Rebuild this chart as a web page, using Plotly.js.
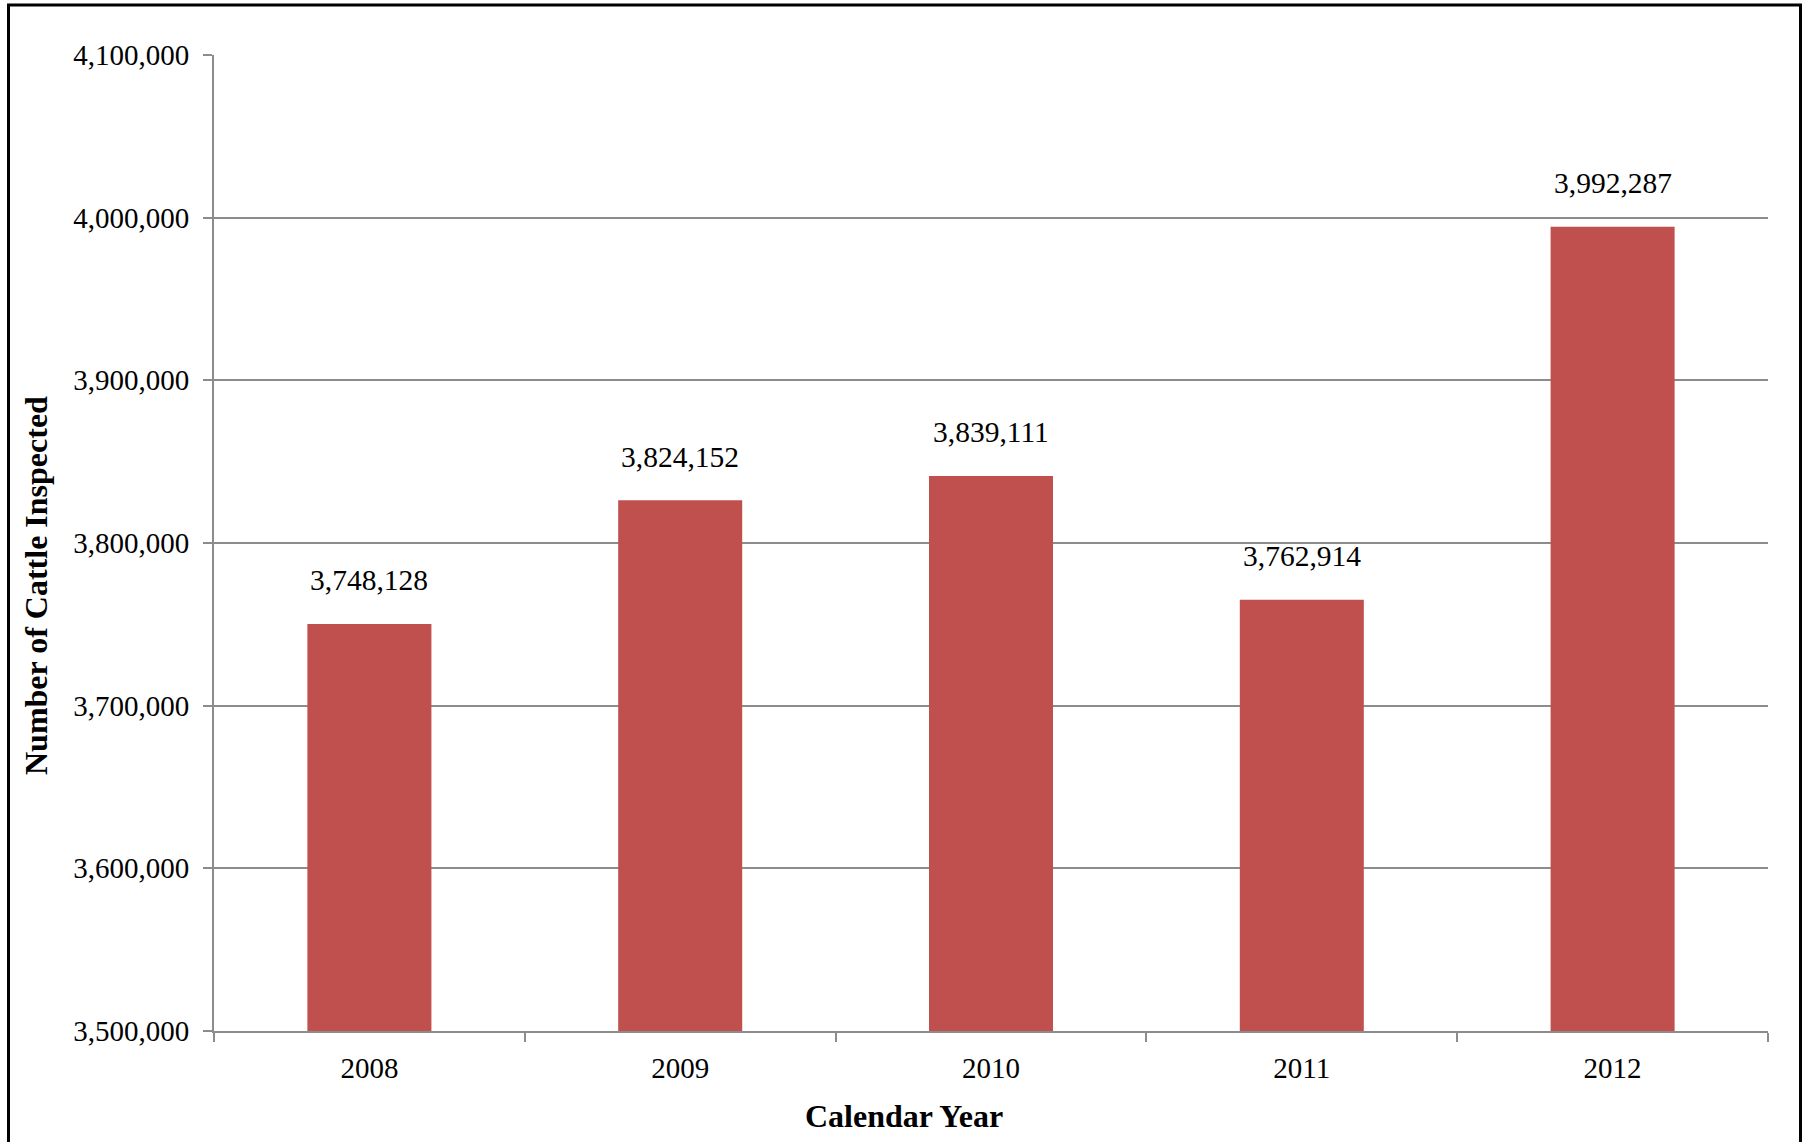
<!DOCTYPE html>
<html>
<head>
<meta charset="utf-8">
<script src="https://cdn.plot.ly/plotly-3.0.1.min.js"></script>
<style>
  html, body { margin: 0; padding: 0; background: #fff; }
  #chart { width: 1807px; height: 1142px; }
</style>
</head>
<body>
<div id="chart"></div>
<script>
const years = ["2008", "2009", "2010", "2011", "2012"];
const cattleInspected = [3748128, 3824152, 3839111, 3762914, 3992287];
const yTickVals = [3500000, 3600000, 3700000, 3800000, 3900000, 4000000, 4100000];
const xTitle = "Calendar Year";
const yTitle = "Number of Cattle Inspected";

const fmt = v => v.toLocaleString("en-US");
const font = "Liberation Serif, Times New Roman, serif";
const gridColor = "#8c8c8c";
const barColor = "#C0504D";

const trace = {
  type: "bar",
  x: years,
  y: cattleInspected,
  width: 0.3765,
  marker: { color: barColor, line: { color: barColor, width: 7 } },
  cliponaxis: false,
  hoverinfo: "x+y"
};

const labelAnnotations = years.map((yr, i) => ({
  x: i, y: cattleInspected[i], xref: "x", yref: "y",
  text: fmt(cattleInspected[i]),
  showarrow: false, yanchor: "middle", yshift: 47,
  font: { family: font, size: 29.5, color: "#000" }
}));

const L = 214, R = 1768, T = 55, B = 1031, W = 1807, H = 1142;
const pw = R - L, ph = B - T;
const px = x => (x - L) / pw;
const py = y => (B - y) / ph;

const layout = {
  width: W, height: H,
  margin: { l: L, r: W - R, t: T, b: H - B, pad: 0 },
  paper_bgcolor: "#fff", plot_bgcolor: "#fff",
  showlegend: false,
  font: { family: font, size: 29, color: "#000" },
  xaxis: {
    type: "category",
    categoryorder: "array", categoryarray: years,
    range: [-0.5, years.length - 0.5],
    autorange: false,
    showline: true, linecolor: gridColor, linewidth: 2,
    ticks: "outside", tickson: "boundaries", ticklen: 9, tickwidth: 2, tickcolor: gridColor,
    ticklabelstandoff: 10, tickangle: 0,
    showgrid: false, zeroline: false,
    tickfont: { family: font, size: 29, color: "#000" }
  },
  yaxis: {
    range: [3500000, 4100000],
    autorange: false,
    tickvals: yTickVals,
    ticktext: yTickVals.map(fmt),
    showline: true, linecolor: gridColor, linewidth: 2,
    ticks: "outside", ticklen: 9, tickwidth: 2, tickcolor: gridColor,
    ticklabelstandoff: 8,
    showgrid: true, gridcolor: gridColor, gridwidth: 2,
    zeroline: false,
    tickfont: { family: font, size: 29, color: "#000" }
  },
  annotations: labelAnnotations.concat([
    {
      xref: "paper", yref: "paper", x: px(904), y: py(1116),
      text: "<b>" + xTitle + "</b>", showarrow: false,
      xanchor: "center", yanchor: "middle",
      font: { family: font, size: 32, color: "#000" }
    },
    {
      xref: "paper", yref: "paper", x: px(36), y: py(586),
      text: "<b>" + yTitle + "</b>", showarrow: false, textangle: -90,
      xanchor: "center", yanchor: "middle",
      font: { family: font, size: 32, color: "#000" }
    }
  ]),
  shapes: [{
    type: "rect", xref: "paper", yref: "paper",
    x0: px(8.5), x1: px(1800.5), y0: py(1160), y1: py(5),
    line: { color: "#000", width: 3 }, fillcolor: "rgba(0,0,0,0)", layer: "above"
  }]
};

Plotly.newPlot("chart", [trace], layout, { displayModeBar: false, staticPlot: true });
</script>
</body>
</html>
